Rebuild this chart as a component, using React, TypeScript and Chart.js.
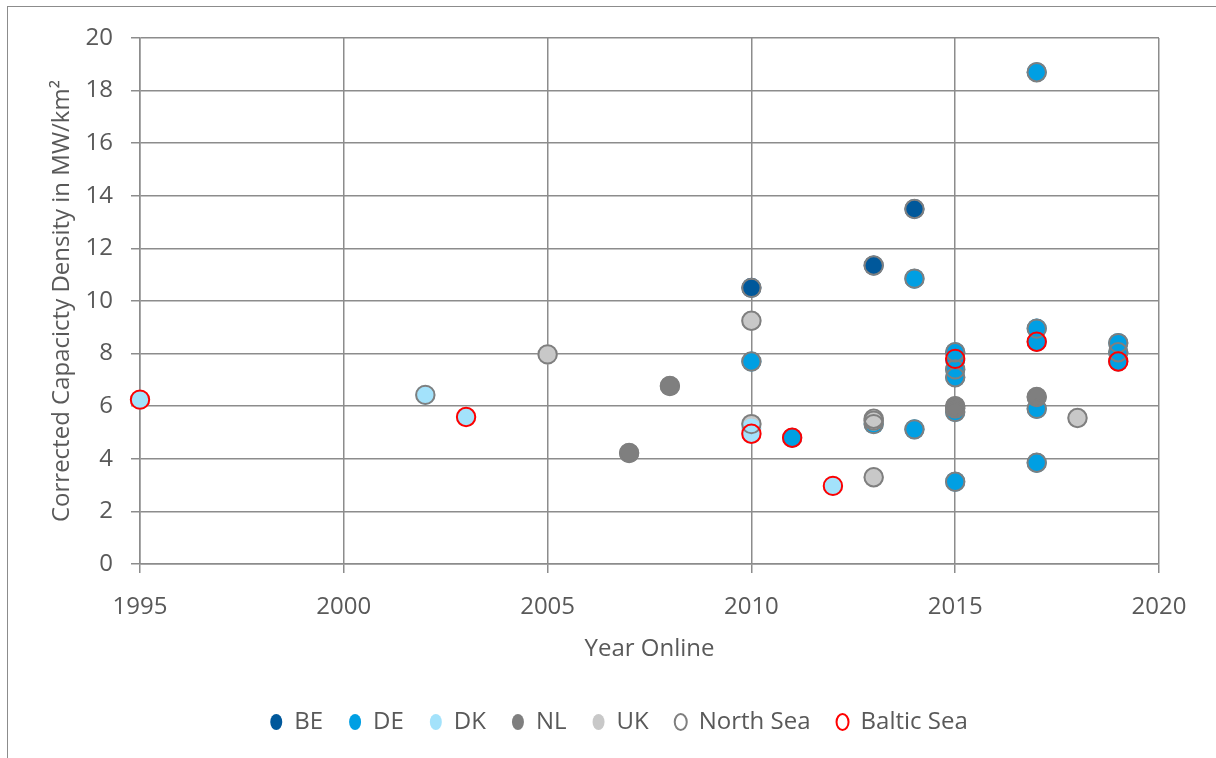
import React, { useEffect, useRef } from "react";
import { Chart, registerables } from "chart.js";

Chart.register(...registerables);

// ---- data ----
const beYears = [2010, 2013, 2014];
const beValues = [10.5, 11.35, 13.5];

const deYears = [2010, 2011, 2013, 2014, 2014, 2015, 2015, 2015, 2015, 2015, 2015, 2017, 2017, 2017, 2017, 2017, 2019, 2019, 2019];
const deValues = [7.7, 4.8, 5.32, 10.85, 5.12, 8.05, 7.75, 7.4, 7.1, 5.78, 3.13, 18.7, 8.95, 8.45, 5.9, 3.85, 8.4, 8.05, 7.7];

const dkYears = [1995, 2002, 2003, 2010, 2010, 2012];
const dkValues = [6.25, 6.43, 5.59, 5.15, 4.95, 2.97];

const nlYears = [2007, 2008, 2015, 2015, 2017];
const nlValues = [4.22, 6.77, 6.0, 5.92, 6.35];

const ukYears = [2005, 2010, 2010, 2013, 2013, 2018];
const ukValues = [7.97, 9.25, 5.32, 5.45, 3.3, 5.55];

const northYears = [2010, 2013, 2014, 2010, 2013, 2014, 2014, 2015, 2015, 2015, 2015, 2015, 2017, 2017, 2017, 2017, 2019, 2019, 2002, 2007, 2008, 2015, 2015, 2017, 2005, 2010, 2010, 2013, 2013, 2013, 2018];
const northValues = [10.5, 11.35, 13.5, 7.7, 5.32, 10.85, 5.12, 8.05, 7.4, 7.1, 5.78, 3.13, 18.7, 8.95, 5.9, 3.85, 8.4, 8.05, 6.43, 4.22, 6.77, 6.0, 5.92, 6.35, 7.97, 9.25, 5.32, 5.45, 5.52, 3.3, 5.55];

const balticYears = [1995, 2003, 2010, 2011, 2012, 2015, 2017, 2019];
const balticValues = [6.25, 5.59, 4.95, 4.8, 2.97, 7.8, 8.45, 7.7];

const seriesLabels = ["BE", "DE", "DK", "NL", "UK", "North Sea", "Baltic Sea"];
const xTickValues = [1995, 2000, 2005, 2010, 2015, 2020];
const yTickValues = [0, 2, 4, 6, 8, 10, 12, 14, 16, 18, 20];

const xTitle = "Year Online";
const yTitle = "Corrected Capacicty Density in MW/km²";

// ---- styles ----
const FONT = "'Open Sans', 'Noto Sans', sans-serif";
const TEXT = "#595959";
const GRID = "#8c8c8c";

function toPoints(xs: number[], ys: number[]) {
  return xs.map((x, i) => ({ x, y: ys[i] }));
}

// shifts the legend block horizontally (the Excel legend is centred on a wider chart area)
const legendShift = {
  id: "legendShift",
  afterLayout(chart: any) {
    if (chart.legend) {
      chart.legend.left += 79;
    }
  },
};

export default function App() {
  const ref = useRef<HTMLCanvasElement | null>(null);

  useEffect(() => {
    if (!ref.current) return;
    const fill = (label: string, xs: number[], ys: number[], color: string, order: number) => ({
      label,
      data: toPoints(xs, ys),
      backgroundColor: color,
      borderColor: color,
      borderWidth: 0,
      pointRadius: 10,
      pointHoverRadius: 10,
      showLine: false,
      clip: false as any,
      order,
    });
    const ring = (label: string, xs: number[], ys: number[], color: string, order: number) => ({
      label,
      data: toPoints(xs, ys),
      backgroundColor: "rgba(255,255,255,0)",
      borderColor: color,
      borderWidth: 2,
      pointRadius: 9.2,
      pointHoverRadius: 9.2,
      showLine: false,
      clip: false as any,
      order,
    });

    const chart = new Chart(ref.current, {
      type: "scatter",
      data: {
        datasets: [
          fill(seriesLabels[0], beYears, beValues, "#00589b", 6),
          fill(seriesLabels[1], deYears, deValues, "#009fe3", 5),
          fill(seriesLabels[2], dkYears, dkValues, "#a3e2fb", 2),
          fill(seriesLabels[3], nlYears, nlValues, "#7f7f7f", 4),
          fill(seriesLabels[4], ukYears, ukValues, "#c8c8c8", 3),
          ring(seriesLabels[5], northYears, northValues, "#7f7f7f", 1),
          ring(seriesLabels[6], balticYears, balticValues, "#ff0000", 0),
        ] as any,
      },
      plugins: [legendShift],
      options: {
        animation: false,
        responsive: false,
        maintainAspectRatio: false,
        layout: { padding: { left: 0, right: 57, top: 38, bottom: 14 } },
        plugins: {
          tooltip: { enabled: false },
          legend: {
            position: "bottom",
            labels: {
              usePointStyle: true,
              pointStyle: "circle",
              pointStyleWidth: 12,
              boxHeight: 11.3,
              padding: 26,
              color: TEXT,
              font: { family: FONT, size: 24 },
              sort: (a: any, b: any) => a.datasetIndex - b.datasetIndex,
            },
          },
        },
        scales: {
          x: {
            type: "linear",
            min: 1995,
            max: 2020,
            afterBuildTicks: (scale: any) => {
              scale.ticks = xTickValues.map((v) => ({ value: v }));
            },
            afterFit: (scale: any) => {
              scale.height = 120;
            },
            ticks: {
              color: TEXT,
              font: { family: FONT, size: 24 },
              padding: 20,
              maxRotation: 0,
              callback: (v: any) => String(v),
            },
            grid: { color: GRID, lineWidth: 1.5, tickLength: 9, tickColor: GRID },
            border: { color: GRID, width: 1.5 },
            title: {
              display: true,
              text: xTitle,
              color: TEXT,
              font: { family: FONT, size: 24 },
              padding: { top: 0, bottom: 20 },
            },
          },
          y: {
            type: "linear",
            min: 0,
            max: 20,
            afterBuildTicks: (scale: any) => {
              scale.ticks = yTickValues.map((v) => ({ value: v }));
            },
            afterFit: (scale: any) => {
              scale.width = 140;
            },
            ticks: {
              color: TEXT,
              font: { family: FONT, size: 24 },
              padding: 18,
              callback: (v: any) => String(v),
            },
            grid: { color: GRID, lineWidth: 1.5, tickLength: 9, tickColor: GRID },
            border: { color: GRID, width: 1.5 },
            title: {
              display: true,
              text: yTitle,
              color: TEXT,
              font: { family: FONT, size: 24 },
              padding: { top: 48, bottom: 0 },
            },
          },
        },
      },
    });
    return () => chart.destroy();
  }, []);

  return (
    <div
      style={{
        position: "fixed",
        left: 0,
        top: 0,
        width: 1216,
        height: 758,
        overflow: "hidden",
        background: "#ffffff",
      }}
    >
      <div
        style={{
          position: "absolute",
          left: 7,
          top: 6,
          width: 1260,
          height: 800,
          borderLeft: "1.5px solid #8c8c8c",
          borderTop: "1.5px solid #8c8c8c",
        }}
      />
      <canvas ref={ref} width={1216} height={758} style={{ position: "absolute", left: 0, top: 0 }} />
    </div>
  );
}
